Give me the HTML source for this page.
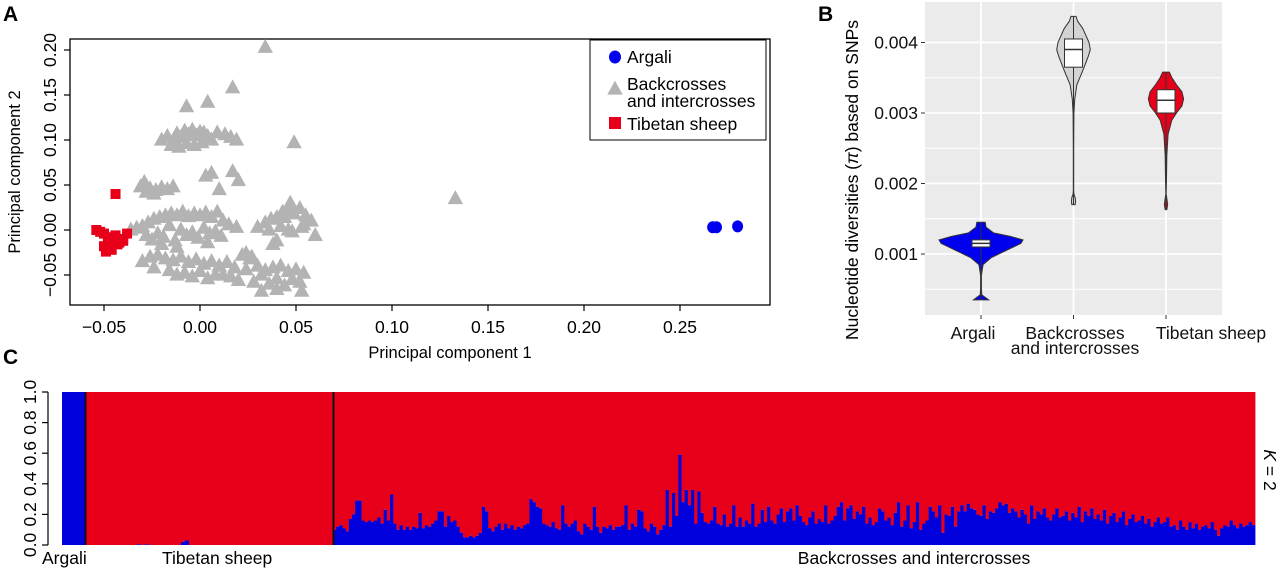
<!DOCTYPE html>
<html><head><meta charset="utf-8"><style>
html,body{margin:0;padding:0;background:#fff;}
svg{display:block;font-family:"Liberation Sans",Arial,sans-serif;}
</style></head><body>
<svg id="s" width="1280" height="569" viewBox="0 0 1280 569" xmlns="http://www.w3.org/2000/svg">
<text x="3" y="21" font-size="21" font-weight="bold">A</text>
<text x="818" y="21" font-size="21" font-weight="bold">B</text>
<text x="3" y="364" font-size="21" font-weight="bold">C</text>
<g id="pa"></g>
<g id="pb"></g>
<g id="pc"></g>
</svg>
<script>
// ---------- Panel A data ----------
const pcaXTicks=[-0.05,0,0.05,0.10,0.15,0.20,0.25];
const pcaXTickLabels=["\u22120.05","0.00","0.05","0.10","0.15","0.20","0.25"];
const pcaYTicks=[-0.05,0,0.05,0.10,0.15,0.20];
const pcaYTickLabels=["\u22120.05","0.00","0.05","0.10","0.15","0.20"];
const grayPC1=[0.034,0.017,0.004,-0.007,0.049,-0.020,-0.017,-0.014,-0.012,-0.010,-0.008,-0.006,-0.004,-0.002,0.000,0.002,0.004,0.006,0.009,0.013,0.016,0.019,-0.015,-0.011,-0.007,-0.003,0.001,
-0.031,-0.029,-0.026,-0.023,-0.020,-0.017,-0.014,-0.028,-0.024,0.006,0.003,0.017,0.020,0.010,
-0.036,-0.033,-0.030,-0.027,-0.024,-0.021,-0.018,-0.015,-0.012,-0.009,-0.006,-0.003,0.000,0.003,0.006,0.009,0.012,0.015,0.019,-0.028,-0.022,-0.016,-0.010,-0.004,0.002,0.008,-0.025,-0.019,-0.013,-0.007,-0.001,0.005,0.011,-0.020,-0.012,0.004,
0.030,0.034,0.037,0.040,0.043,0.046,0.049,0.052,0.055,0.058,0.036,0.042,0.048,0.054,0.060,0.040,0.046,0.053,0.047,0.038,0.044,
-0.030,-0.026,-0.022,-0.018,-0.014,-0.010,-0.006,-0.002,0.002,0.006,0.010,0.014,0.018,0.022,0.026,0.030,0.034,0.038,0.042,0.046,0.050,0.054,-0.024,-0.016,-0.008,0.000,0.008,0.016,0.024,0.032,0.040,0.048,-0.012,-0.004,0.004,0.012,0.020,0.028,0.036,0.044,0.052,0.024,0.027,0.010,0.032,0.040,0.053,
0.133];
const grayPC2=[0.203,0.158,0.142,0.137,0.097,0.100,0.104,0.098,0.107,0.103,0.110,0.106,0.111,0.105,0.109,0.108,0.104,0.100,0.108,0.106,0.103,0.100,0.094,0.092,0.096,0.094,0.097,
0.048,0.053,0.046,0.044,0.047,0.045,0.048,0.042,0.040,0.063,0.060,0.065,0.055,0.045,
0.000,0.002,0.004,0.008,0.012,0.014,0.016,0.018,0.016,0.020,0.015,0.018,0.016,0.019,0.014,0.020,0.010,0.006,0.003,-0.006,-0.004,0.005,0.000,-0.003,0.002,-0.002,-0.011,-0.008,-0.012,-0.006,-0.009,-0.004,-0.007,-0.016,-0.019,-0.014,
0.003,0.008,0.012,0.014,0.020,0.022,0.018,0.024,0.016,0.010,0.000,0.004,-0.002,0.006,-0.006,-0.012,0.000,0.003,0.030,-0.016,0.014,
-0.035,-0.030,-0.028,-0.032,-0.034,-0.030,-0.036,-0.033,-0.038,-0.035,-0.040,-0.036,-0.042,-0.028,-0.032,-0.040,-0.045,-0.042,-0.040,-0.046,-0.044,-0.048,-0.042,-0.045,-0.048,-0.046,-0.050,-0.052,-0.044,-0.050,-0.054,-0.055,-0.050,-0.052,-0.054,-0.050,-0.056,-0.058,-0.060,-0.062,-0.058,-0.026,-0.030,-0.040,-0.068,-0.066,-0.068,
0.035];
const redPC1=[-0.044,-0.054,-0.052,-0.050,-0.048,-0.046,-0.044,-0.042,-0.040,-0.038,-0.050,-0.047,-0.043,-0.040,-0.049,-0.046];
const redPC2=[0.040,0.000,-0.002,-0.004,-0.008,-0.012,-0.006,-0.014,-0.010,-0.004,-0.018,-0.020,-0.016,-0.012,-0.024,-0.022];
const bluePC1=[0.267,0.269,0.280];
const bluePC2=[0.003,0.003,0.004];

// ---------- Panel B data ----------
const vioCats=["Argali","Backcrosses|and intercrosses","Tibetan sheep"];
const vioColors=["#0000ee","#d3d3d3","#e8001a"];
const vioYTicks=[0.001,0.002,0.003,0.004];
const vioYTickLabels=["0.001","0.002","0.003","0.004"];
const argaliY=[0.00035,0.00042,0.0005,0.0007,0.00085,0.00095,0.00105,0.00115,0.0012,0.00125,0.0013,0.00138,0.00145];
const argaliW=[0.18,0.02,0.01,0.01,0.05,0.25,0.6,0.95,1.0,0.7,0.3,0.12,0.1];
const backY=[0.0017,0.00175,0.0018,0.00185,0.0019,0.0025,0.003,0.0032,0.0034,0.0036,0.0038,0.0039,0.0040,0.0042,0.0043,0.00437];
const backW=[0.04,0.05,0.04,0.01,0.005,0.005,0.01,0.03,0.08,0.22,0.35,0.4,0.37,0.22,0.1,0.06];
const tibY=[0.00163,0.0017,0.00185,0.0020,0.0024,0.0027,0.0029,0.0030,0.0031,0.0032,0.0033,0.0034,0.0035,0.00358];
const tibW=[0.02,0.04,0.005,0.01,0.02,0.05,0.14,0.25,0.38,0.42,0.38,0.25,0.14,0.08];
const boxQ1=[0.00110,0.00365,0.00300];
const boxMed=[0.00115,0.00390,0.00318];
const boxQ3=[0.00120,0.00405,0.00333];

// ---------- Panel C data ----------
const admixYTicks=[0,0.2,0.4,0.6,0.8,1.0];
const admixYTickLabels=["0.0","0.2","0.4","0.6","0.8","1.0"];
const argaliBlue=[1,1,1,1,1,1];
const tibetanBlue=[0,0,0,0,0,0,0,0,0,0,0,0,0,0.005,0,0.005,0,0,0,0,0,0,0,0,0.02,0.03,0,0,0,0,0,0,0,0,0,0,0,0,0,0,0,0,0,0,0,0,0,0,0,0,0,0,0,0,0,0,0,0,0,0,0,0];
const crossBlue=[0.10,0.12,0.13,0.11,0.09,0.17,0.20,0.29,0.29,0.16,0.15,0.16,0.15,0.16,0.18,0.14,0.23,0.16,0.33,0.14,0.10,0.13,0.10,0.12,0.10,0.12,0.11,0.21,0.11,0.13,0.12,0.14,0.16,0.22,0.22,0.12,0.19,0.15,0.16,0.12,0.08,0.05,0.05,0.06,0.05,0.06,0.08,0.25,0.22,0.11,0.09,0.12,0.14,0.10,0.14,0.11,0.13,0.10,0.12,0.11,0.13,0.14,0.30,0.28,0.25,0.24,0.14,0.13,0.12,0.15,0.11,0.10,0.26,0.14,0.12,0.14,0.16,0.09,0.07,0.14,0.12,0.10,0.25,0.12,0.08,0.12,0.11,0.13,0.10,0.12,0.12,0.13,0.26,0.10,0.14,0.12,0.23,0.22,0.11,0.09,0.14,0.12,0.07,0.10,0.13,0.36,0.12,0.34,0.19,0.59,0.28,0.36,0.26,0.36,0.14,0.35,0.21,
0.15,0.14,0.16,0.25,0.14,0.13,0.20,0.12,0.14,0.26,0.12,0.18,0.12,0.16,0.14,0.27,0.12,0.14,0.23,0.15,0.25,0.16,0.14,0.20,0.24,0.15,0.22,0.24,0.16,0.26,
0.19,0.15,0.13,0.18,0.22,0.14,0.17,0.15,0.26,0.14,0.16,0.19,0.25,0.28,0.16,0.24,0.26,0.17,0.22,0.20,0.25,0.14,0.18,0.13,0.15,0.24,0.22,0.16,0.18,0.13,0.21,0.28,0.12,0.16,0.26,0.11,0.15,0.28,0.10,0.14,0.16,0.25,0.22,0.18,0.26,0.08,0.20,0.19,0.25,0.12,0.22,0.26,0.22,0.27,0.24,0.23,0.20,0.19,0.26,0.17,0.22,0.21,0.24,0.28,0.26,0.27,0.21,0.24,0.22,0.18,0.23,0.20,0.14,0.26,0.17,0.22,0.20,0.24,0.18,0.16,0.20,0.24,0.18,0.19,0.22,0.16,
0.21,0.18,0.25,0.15,0.22,0.19,0.24,0.17,0.20,0.16,0.23,0.14,0.19,0.21,0.15,0.18,0.22,0.13,0.17,0.20,0.15,0.16,0.19,0.14,0.17,0.12,0.15,0.18,
0.14,0.15,0.18,0.12,0.13,0.10,0.16,0.12,0.10,0.15,0.11,0.14,0.10,0.12,0.13,0.11,0.15,0.10,0.06,0.11,0.13,0.12,0.16,0.13,0.11,0.14,0.12,0.13,0.15,0.13];

const NS="http://www.w3.org/2000/svg";
const FS=17.5;
function mk(parent,tag,attrs,text){const e=document.createElementNS(NS,tag);for(const k in attrs)e.setAttribute(k,attrs[k]);if(text!==undefined)e.textContent=text;parent.appendChild(e);return e;}

// ===== Panel A =====
const pa=document.getElementById('pa');
const ax=v=>200+v*1920, ay=v=>230-v*900;
let e=mk(pa,'rect',{x:70,y:39,width:700,height:266,fill:'none',stroke:'#000','stroke-width':1.3});

pcaXTicks.forEach((t,i)=>{
  let l=mk(pa,'line',{x1:ax(t),x2:ax(t),y1:305,y2:311,stroke:'#000','stroke-width':1.2});
  
  let tx=mk(pa,'text',{x:ax(t),y:333,'font-size':FS,'text-anchor':'middle'},pcaXTickLabels[i]);
  
});
pcaYTicks.forEach((t,i)=>{
  let l=mk(pa,'line',{x1:64,x2:70,y1:ay(t),y2:ay(t),stroke:'#000','stroke-width':1.2});
  
  let tx=mk(pa,'text',{x:0,y:0,'font-size':FS,'text-anchor':'middle',transform:`translate(56,${ay(t)}) rotate(-90)`},pcaYTickLabels[i]);
  
});
e=mk(pa,'text',{x:450,y:358,'font-size':16.5,'text-anchor':'middle'},'Principal component 1');

e=mk(pa,'text',{x:0,y:0,'font-size':16.5,'text-anchor':'middle',transform:'translate(20,172) rotate(-90)'},'Principal component 2');

function tri(g,cx,cy,s,fill){return mk(g,'polygon',{points:`${cx},${cy-s*0.6} ${cx-s*0.55},${cy+s*0.4} ${cx+s*0.55},${cy+s*0.4}`,fill:fill});}
grayPC1.forEach((v,i)=>{let p=tri(pa,ax(v),ay(grayPC2[i]),14,'#b3b3b3');
  });
redPC1.forEach((v,i)=>{let p=mk(pa,'rect',{x:ax(v)-5,y:ay(redPC2[i])-5,width:10,height:10,fill:'#e8001a'});
  });
bluePC1.forEach((v,i)=>{let p=mk(pa,'ellipse',{cx:ax(v),cy:ay(bluePC2[i]),rx:5.5,ry:6,fill:'#0000ee'});
  });
const lg=mk(pa,'g',{});
mk(lg,'rect',{x:590,y:40,width:176,height:100,fill:'#fff',stroke:'#000','stroke-width':1});
e=mk(lg,'ellipse',{cx:615,cy:57,rx:6,ry:6.5,fill:'#0000ee'});
e=mk(lg,'text',{x:627,y:63,'font-size':FS},'Argali');
e=tri(lg,615,89,14,'#b3b3b3');
e=mk(lg,'text',{x:627,y:90,'font-size':FS},'Backcrosses');
e=mk(lg,'text',{x:627,y:107,'font-size':FS},'and intercrosses');
e=mk(lg,'rect',{x:609,y:117,width:12,height:12,fill:'#e8001a'});
e=mk(lg,'text',{x:627,y:130,'font-size':FS},'Tibetan sheep');

// ===== Panel B =====
const pb=document.getElementById('pb');
const bx=i=>981+i*92.5, by=v=>254-(v-0.001)*70500;
const labelCx=[973,1075,1211];
e=mk(pb,'rect',{x:925,y:2,width:297,height:313,fill:'#ebebeb'});
for(let v=0.0005;v<=0.0045;v+=0.0005){const maj=Math.abs(v*1000-Math.round(v*1000))<1e-6;
  let l=mk(pb,'line',{x1:925,x2:1222,y1:by(v),y2:by(v),stroke:'#fff','stroke-width':maj?1.8:0.9});
  }
vioCats.forEach((c,i)=>{let l=mk(pb,'line',{x1:bx(i),x2:bx(i),y1:2,y2:315,stroke:'#fff','stroke-width':1.8});
  
  let t=mk(pb,'line',{x1:bx(i),x2:bx(i),y1:315,y2:319,stroke:'#333','stroke-width':1});
  
  const parts=c.split('|');
  parts.forEach((p,j)=>{let tx=mk(pb,'text',{x:labelCx[i],y:339+j*15,'font-size':FS,'text-anchor':'middle',fill:'#111'},p);
    });
});
vioYTicks.forEach((t,i)=>{let l=mk(pb,'line',{x1:921,x2:925,y1:by(t),y2:by(t),stroke:'#333'});
  
  let tx=mk(pb,'text',{x:918,y:by(t)+6,'font-size':FS,'text-anchor':'end',fill:'#111'},vioYTickLabels[i]);
  });
e=mk(pb,'text',{x:0,y:0,'font-size':FS,'text-anchor':'middle',transform:'translate(858,180) rotate(-90)'});
e.innerHTML='Nucleotide diversities (<tspan font-style="italic">π</tspan>) based on SNPs';

const vdata=[[argaliY,argaliW],[backY,backW],[tibY,tibW]];
vdata.forEach((d,i)=>{const [ys,ws]=d;const sc=42;
  let pts=[];ys.forEach((y,k)=>pts.push(`${bx(i)+ws[k]*sc},${by(y)}`));
  for(let k=ys.length-1;k>=0;k--)pts.push(`${bx(i)-ws[k]*sc},${by(ys[k])}`);
  let p=mk(pb,'polygon',{points:pts.join(' '),fill:vioColors[i],stroke:'#333','stroke-width':1});
  
  let w=mk(pb,'line',{x1:bx(i),x2:bx(i),y1:by(ys[ys.length-1]),y2:by(ys[0]),stroke:'#333','stroke-width':1});
  
  let b=mk(pb,'rect',{x:bx(i)-9,y:by(boxQ3[i]),width:18,height:by(boxQ1[i])-by(boxQ3[i]),fill:'#fff',stroke:'#333','stroke-width':1});
  
  let m=mk(pb,'line',{x1:bx(i)-9,x2:bx(i)+9,y1:by(boxMed[i]),y2:by(boxMed[i]),stroke:'#333','stroke-width':1.5});
  
});

// ===== Panel C =====
const pc=document.getElementById('pc');
const cy=v=>545-v*153;
admixYTicks.forEach((t,i)=>{let l=mk(pc,'line',{x1:42,x2:48,y1:cy(t),y2:cy(t),stroke:'#000','stroke-width':1.2});
  
  let tx=mk(pc,'text',{x:0,y:0,'font-size':FS,'text-anchor':'middle',transform:`translate(36,${cy(t)}) rotate(-90)`},admixYTickLabels[i]);
  });
e=mk(pc,'line',{x1:48,x2:48,y1:cy(0),y2:cy(1),stroke:'#000','stroke-width':1.2});
function drawGroup(vals,x0,x1,name){const w=(x1-x0)/vals.length;
  vals.forEach((v,i)=>{const x=x0+i*w;
    let r=mk(pc,'rect',{x:x,y:cy(1),width:w+0.4,height:cy(v)-cy(1),fill:'#e8001a'});
    
    let b=mk(pc,'rect',{x:x,y:cy(v),width:w+0.4,height:cy(0)-cy(v),fill:'#0000dd'});
    });}
drawGroup(argaliBlue,62,85,'argali');
drawGroup(tibetanBlue,85,333,'tibetan');
drawGroup(crossBlue,333,1255,'backcross');
e=mk(pc,'line',{x1:85.5,x2:85.5,y1:cy(1),y2:cy(0),stroke:'#111','stroke-width':2});
e=mk(pc,'line',{x1:333.5,x2:333.5,y1:cy(1),y2:cy(0),stroke:'#111','stroke-width':2});
e=mk(pc,'text',{x:42,y:564,'font-size':FS},'Argali');
e=mk(pc,'text',{x:162,y:564,'font-size':FS},'Tibetan sheep');
e=mk(pc,'text',{x:914,y:564,'font-size':FS,'text-anchor':'middle'},'Backcrosses and intercrosses');
e=mk(pc,'text',{x:0,y:0,'font-size':FS,'text-anchor':'middle',transform:'translate(1264,470) rotate(90)'});
e.innerHTML='<tspan font-style="italic">K</tspan> = 2';

</script>
</body></html>
